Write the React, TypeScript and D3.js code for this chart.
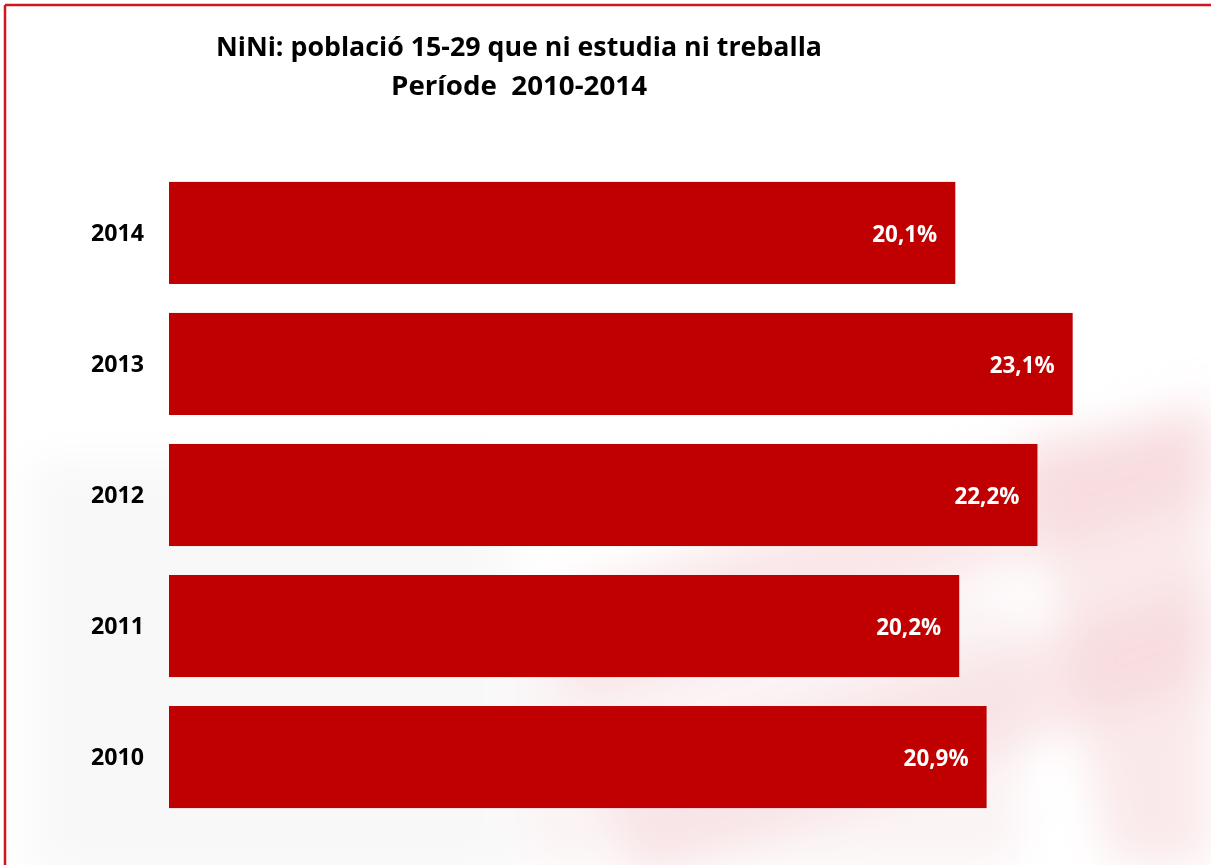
import React from "react";
import * as d3 from "d3";

const years = ["2014", "2013", "2012", "2011", "2010"];
const values = [20.1, 23.1, 22.2, 20.2, 20.9];
const valueLabels = ["20,1%", "23,1%", "22,2%", "20,2%", "20,9%"];
const titleLines = ["NiNi: població 15-29 que ni estudia ni treballa", "Període  2010-2014"];

const W = 1211;
const H = 865;
const FONT = "'Open Sans', 'Noto Sans', sans-serif";

export default function App() {
  const x = d3.scaleLinear().domain([0, 25]).range([169, 169 + 25 * 39.12]);
  const y = d3
    .scaleBand<string>()
    .domain(years)
    .range([167.5, 822.5])
    .paddingInner(0.221)
    .paddingOuter(0.11);

  return (
    <svg
      width={W}
      height={H}
      style={{ position: "absolute", left: 0, top: 0, background: "#fff" }}
    >
      <defs>
        <filter id="blur" x="-20%" y="-20%" width="140%" height="140%">
          <feGaussianBlur stdDeviation="22" />
        </filter>
      </defs>
      {/* faint watermark background */}
      <g filter="url(#blur)">
        <rect x={30} y={460} width={480} height={420} fill="#f4f4f4" opacity={0.6} />
        <polygon points="540,600 1211,400 1211,500 580,700" fill="#f3c9cf" opacity={0.45} />
        <polygon points="600,780 1211,580 1211,680 640,880" fill="#f3c9cf" opacity={0.45} />
        <polygon points="1020,440 1211,420 1211,865 1110,865" fill="#f5d3d8" opacity={0.5} />
        <rect x={520} y={600} width={500} height={265} fill="#f6e0e3" opacity={0.4} />
      </g>
      {/* border */}
      <line x1={5} y1={5} x2={W} y2={5} stroke="#d0161c" strokeWidth={2.5} />
      <line x1={5} y1={5} x2={5} y2={H} stroke="#d0161c" strokeWidth={2.5} />

      {/* title */}
      <text
        x={519}
        y={56}
        textAnchor="middle"
        fontFamily={FONT}
        fontWeight="bold"
        fontSize={27}
        fill="#000"
        textLength={606}
        lengthAdjust="spacingAndGlyphs"
      >
        {titleLines[0]}
      </text>
      <text
        x={519}
        y={95}
        textAnchor="middle"
        fontFamily={FONT}
        fontWeight="bold"
        fontSize={27}
        fill="#000"
        textLength={256}
        lengthAdjust="spacingAndGlyphs"
        style={{ whiteSpace: "pre" }}
      >
        {titleLines[1]}
      </text>

      {years.map((yr, i) => {
        const by = y(yr) as number;
        const bh = y.bandwidth();
        return (
          <g key={yr}>
            <rect x={x(0)} y={by} width={x(values[i]) - x(0)} height={bh} fill="#c00000" />
            <text
              x={144}
              y={by + bh / 2}
              dy="0.35em"
              textAnchor="end"
              fontFamily={FONT}
              fontWeight="bold"
              fontSize={24}
              fill="#000"
              textLength={53}
              lengthAdjust="spacingAndGlyphs"
            >
              {yr}
            </text>
            <text
              x={x(values[i]) - 18}
              y={by + bh / 2 + 1}
              dy="0.35em"
              textAnchor="end"
              fontFamily={FONT}
              fontWeight="bold"
              fontSize={23}
              fill="#fff"
              textLength={65}
              lengthAdjust="spacingAndGlyphs"
            >
              {valueLabels[i]}
            </text>
          </g>
        );
      })}
    </svg>
  );
}
